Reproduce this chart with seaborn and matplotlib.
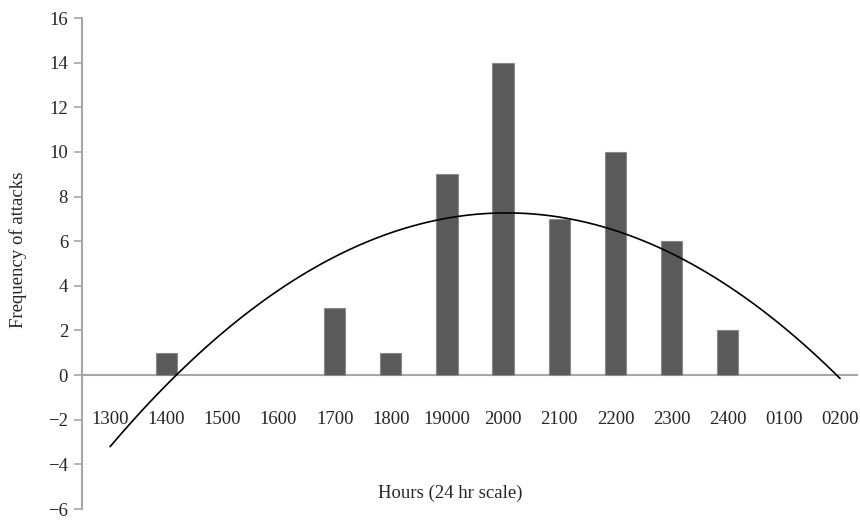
import numpy as np
import pandas as pd
import matplotlib.pyplot as plt
import seaborn as sns

hours = ["1300", "1400", "1500", "1600", "1700", "1800", "19000",
         "2000", "2100", "2200", "2300", "2400", "0100", "0200"]
attacks = [0, 1, 0, 0, 3, 1, 9, 14, 7, 10, 6, 2, 0, 0]

df = pd.DataFrame({"hour": hours, "attacks": attacks, "pos": np.arange(len(hours))})

sns.set_style("white")
plt.rcParams["font.family"] = ["Liberation Serif", "DejaVu Serif"]
plt.rcParams["axes.unicode_minus"] = True

fig = plt.figure(figsize=(8.6, 5.21), dpi=100)
ax = fig.add_axes([82 / 860, 1 - 509 / 521, 776 / 860, 491 / 521])

sns.barplot(data=df, x="hour", y="attacks", order=hours, ax=ax,
            color="#5a5a5a", saturation=1, width=0.38,
            edgecolor="#8a8a8a", linewidth=0.8)

# hide the outline of empty bars
for p in ax.patches:
    if p.get_height() == 0:
        p.set_linewidth(0)

# second order trend line, like the spreadsheet one
sns.regplot(data=df, x="pos", y="attacks", order=2, ci=None, scatter=False,
            ax=ax, line_kws={"color": "black", "lw": 1.2})

ax.axhline(0, color="#a6a6a6", lw=1.5, zorder=0)

ax.set_xlim(-0.5, 13.32)
ax.set_ylim(-6, 16)
ax.set_yticks(np.arange(-6, 17, 2))
ax.set_xticks(np.arange(len(hours)))
ax.set_xticklabels(hours)

for s in ["top", "right"]:
    ax.spines[s].set_visible(False)
ax.spines["left"].set_color("#a6a6a6")
ax.spines["left"].set_linewidth(1.5)
ax.spines["bottom"].set_position(("data", -2))
ax.spines["bottom"].set_visible(False)

ax.tick_params(axis="y", direction="out", length=6, width=1.2, color="#a6a6a6",
               left=True, labelsize=13.5, pad=4)
ax.tick_params(axis="x", length=0, labelsize=13.5, pad=0)
for lab in ax.get_xticklabels():
    lab.set_va("center")

ax.set_xlabel("Hours (24 hr scale)", fontsize=13.5)
ax.set_ylabel("Frequency of attacks", fontsize=13.5)
ax.xaxis.set_label_coords(0.474, 0.0326)
ax.yaxis.set_label_coords(-0.0825, 0.527)
ax.xaxis.label.set_va("center")
ax.yaxis.label.set_va("center")

fig.savefig("out.png", dpi=100)
plt.close()
